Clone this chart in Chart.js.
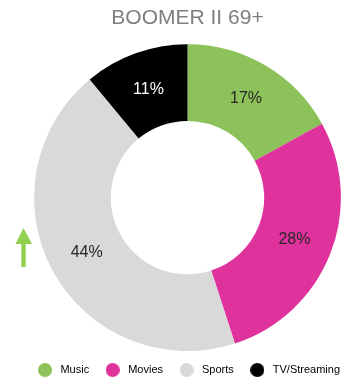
<!DOCTYPE html>
<html lang="en">
<head>
  <meta charset="UTF-8">
  <title>BOOMER II 69+</title>
  <script src="https://cdn.jsdelivr.net/npm/chart.js"></script>
  <style>
    html, body { margin: 0; padding: 0; background: #ffffff; }
    .chart-container { width: 355px; height: 384px; position: relative; }
  </style>
</head>
<body>
  <div class="chart-container">
    <canvas id="boomerChart"></canvas>
  </div>

  <script>
    const categories = ['Music', 'Movies', 'Sports', 'TV/Streaming'];
    const shares = [17, 28, 44, 11];
    const sliceColors = ['#8DC15A', '#E0329C', '#D9D9D9', '#000000'];
    const labelColors = ['#262626', '#262626', '#262626', '#FFFFFF'];

    // small round swatch used as the legend marker
    function dot(color) {
      const c = document.createElement('canvas');
      c.width = 14;
      c.height = 14;
      const g = c.getContext('2d');
      g.fillStyle = color;
      g.beginPath();
      g.arc(7, 7, 7, 0, Math.PI * 2);
      g.fill();
      return c;
    }

    // percentage text in the middle of each slice
    const sliceLabels = {
      id: 'sliceLabels',
      afterDatasetsDraw(chart) {
        const ctx = chart.ctx;
        const meta = chart.getDatasetMeta(0);
        ctx.save();
        ctx.font = '16px "Liberation Sans", Arial, sans-serif';
        ctx.textAlign = 'center';
        ctx.textBaseline = 'middle';
        meta.data.forEach((arc, i) => {
          const p = arc.tooltipPosition();
          ctx.fillStyle = labelColors[i];
          ctx.fillText(shares[i] + '%', p.x, p.y);
        });
        ctx.restore();
      }
    };

    // green up arrow on the left
    const upArrow = {
      id: 'upArrow',
      afterDraw(chart) {
        const ctx = chart.ctx;
        ctx.save();
        ctx.fillStyle = '#92D050';
        ctx.beginPath();
        ctx.moveTo(23.5, 228);
        ctx.lineTo(32, 244);
        ctx.lineTo(25.7, 244);
        ctx.lineTo(25.7, 267);
        ctx.lineTo(21.3, 267);
        ctx.lineTo(21.3, 244);
        ctx.lineTo(15.5, 244);
        ctx.closePath();
        ctx.fill();
        ctx.restore();
      }
    };

    const ctx = document.getElementById('boomerChart').getContext('2d');
    new Chart(ctx, {
      type: 'doughnut',
      data: {
        labels: categories,
        datasets: [{
          data: shares,
          backgroundColor: sliceColors,
          borderWidth: 0
        }]
      },
      options: {
        responsive: true,
        maintainAspectRatio: false,
        animation: false,
        cutout: '50%',
        layout: {
          padding: { left: 20, right: 0, top: 0, bottom: -1.5 }
        },
        plugins: {
          title: {
            display: true,
            text: 'BOOMER II 69+',
            color: '#7F7F7F',
            font: { family: '"Liberation Sans", Arial, sans-serif', size: 21, weight: 'normal' },
            padding: { top: 6, bottom: 13 }
          },
          legend: {
            display: true,
            position: 'bottom',
            labels: {
              color: '#404040',
              font: { family: '"Liberation Sans", Arial, sans-serif', size: 11 },
              usePointStyle: true,
              pointStyleWidth: 20,
              padding: 13.5,
              generateLabels(chart) {
                return categories.map((name, i) => ({
                  text: name,
                  fillStyle: sliceColors[i],
                  strokeStyle: sliceColors[i],
                  lineWidth: 0,
                  pointStyle: dot(sliceColors[i]),
                  hidden: false,
                  index: i
                }));
              }
            }
          },
          tooltip: { enabled: false }
        }
      },
      plugins: [sliceLabels, upArrow]
    });
  </script>
</body>
</html>
